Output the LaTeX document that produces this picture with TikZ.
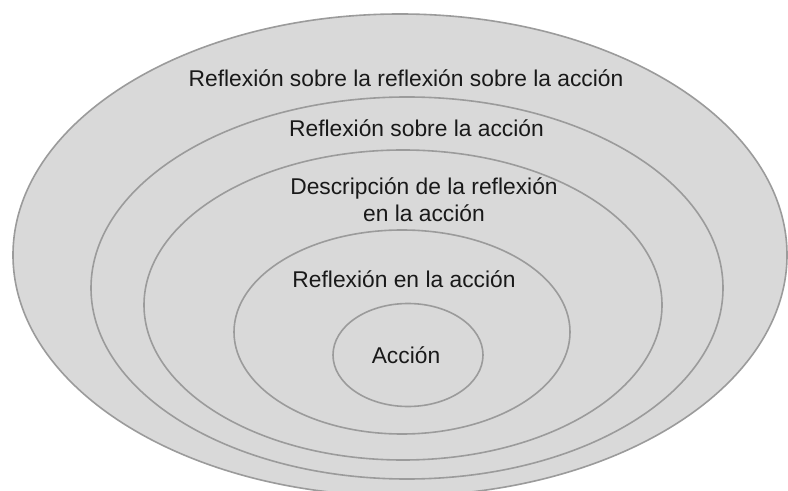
\documentclass[tikz,border=0pt]{standalone}
\usepackage{fontspec}
\setmainfont{Liberation Sans}
\usetikzlibrary{shapes.geometric}
\definecolor{ringfill}{RGB}{217,217,217}
\definecolor{ringline}{RGB}{155,155,155}
\definecolor{ringtext}{RGB}{25,25,25}
\begin{document}
\begin{tikzpicture}[x=1bp,y=-1bp,
  ring/.style={ellipse, draw=ringline, fill=ringfill, line width=1.6bp, inner sep=0pt},
  lbl/.style={text=ringtext, inner sep=0pt, anchor=base, align=center,
    font=\fontsize{22.8bp}{27bp}\selectfont}]
\useasboundingbox (0,0) rectangle (788,491);
\clip (0,0) rectangle (788,491);
\fill[white] (0,0) rectangle (788,491);
\node[ring, minimum width=774bp, minimum height=482bp] (r1) at (400,255) {};
\node[ring, minimum width=632bp, minimum height=382bp] (r2) at (407,288) {};
\node[ring, minimum width=518bp, minimum height=310bp] (r3) at (403,305) {};
\node[ring, minimum width=336bp, minimum height=204bp] (r4) at (402,332) {};
\node[ring, minimum width=150bp, minimum height=103bp] (r5) at (408,355) {};
\node[lbl] (t1) at (406,87) {Reflexión sobre la reflexión sobre la acción};
\node[lbl] (t2) at (416.5,137) {Reflexión sobre la acción};
\node[lbl] (t3) at (424,222) {Descripción de la reflexión\\en la acción};
\node[lbl] (t4) at (404,288) {Reflexión en la acción};
\node[lbl] (t5) at (406,363) {Acción};
\end{tikzpicture}
\end{document}
